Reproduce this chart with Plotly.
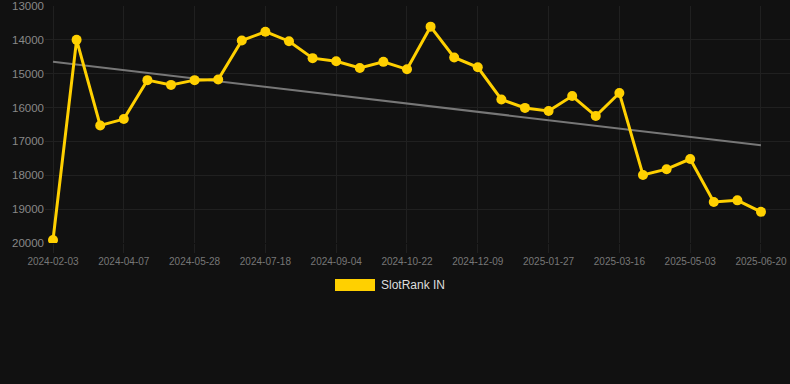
import plotly.graph_objects as go

dates = [
    "2024-02-03", "2024-02-24", "2024-03-16", "2024-04-07", "2024-04-24", "2024-05-11",
    "2024-05-28", "2024-06-14", "2024-07-01", "2024-07-18", "2024-08-03", "2024-08-19",
    "2024-09-04", "2024-09-20", "2024-10-06", "2024-10-22", "2024-11-07", "2024-11-23",
    "2024-12-09", "2024-12-25", "2025-01-11", "2025-01-27", "2025-02-12", "2025-02-28",
    "2025-03-16", "2025-04-01", "2025-04-17", "2025-05-03", "2025-05-19", "2025-06-04",
    "2025-06-20",
]
rank = [
    19910, 14000, 16530, 16340, 15190, 15330,
    15190, 15170, 14020, 13760, 14040, 14540,
    14630, 14830, 14650, 14870, 13610, 14520,
    14810, 15760, 16010, 16100, 15660, 16250,
    15570, 17990, 17820, 17520, 18790, 18740,
    19080,
]
trend_y = [14650, 17110]
tick_labels = dates[::3]
y_ticks = [13000, 14000, 15000, 16000, 17000, 18000, 19000, 20000]
y_tick_text = [str(v) for v in y_ticks]
series_name = "SlotRank IN"

BG = "#111111"
GRID = "#202020"
GOLD = "#FFD000"
FONT = "Liberation Sans, Arial, sans-serif"

fig = go.Figure()
fig.add_trace(go.Scatter(
    x=[dates[0], dates[-1]], y=trend_y, mode="lines",
    line=dict(color="#777777", width=2), hoverinfo="skip", showlegend=False,
))
fig.add_trace(go.Scatter(
    x=dates, y=rank, mode="lines+markers", name=series_name,
    line=dict(color=GOLD, width=3), marker=dict(color=GOLD, size=10),
    showlegend=False,
))

fig.add_shape(type="rect", xref="paper", yref="paper",
              x0=(335 - 45) / 745, x1=(375 - 45) / 745,
              y0=(243 - 291) / 237, y1=(243 - 279) / 237,
              fillcolor=GOLD, line=dict(width=0))
fig.add_annotation(text=series_name, xref="paper", yref="paper",
                   x=(379 - 45) / 745, y=(243 - 285) / 237,
                   xanchor="left", yanchor="middle", showarrow=False,
                   font=dict(family=FONT, size=12, color="#dddddd"))

fig.update_layout(
    width=790, height=384,
    margin=dict(l=45, r=0, t=6, b=141),
    paper_bgcolor=BG, plot_bgcolor=BG,
    font=dict(family=FONT, color="#888888"),
    xaxis=dict(
        type="category", categoryorder="array", categoryarray=dates,
        range=[-0.339, 31.23],
        tickmode="array", tickvals=tick_labels, ticktext=tick_labels,
        tickfont=dict(size=10, color="#777777"),
        ticks="outside", ticklen=9, tickcolor=GRID,
        showgrid=True, gridcolor=GRID, gridwidth=1,
        zeroline=False, showline=False,
    ),
    yaxis=dict(
        range=[20000, 13000], tickmode="array", tickvals=y_ticks, ticktext=y_tick_text,
        tickfont=dict(size=11.5, color="#888888"),
        showgrid=True, gridcolor=GRID, gridwidth=1,
        zeroline=False, showline=False, ticks="",
    ),
)

fig.write_html("out.html")
